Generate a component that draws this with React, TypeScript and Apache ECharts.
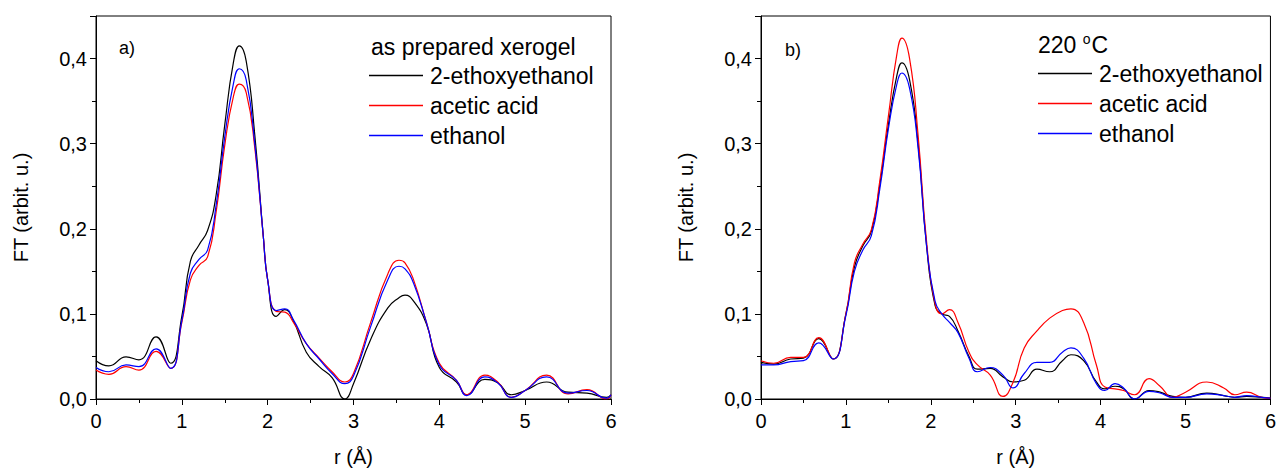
import React, { useEffect, useRef } from "react";
import * as echarts from "echarts";

// ---- Panel a) as prepared xerogel ----
const rA = [0, 0.15, 0.35, 0.5, 0.7, 0.87, 1.0, 1.1, 1.2, 1.3, 1.4, 1.5, 1.6, 1.67, 1.75, 1.85, 1.95, 2.0, 2.1, 2.2, 2.3, 2.45, 2.6, 2.75, 2.9, 3.0, 3.2, 3.4, 3.53, 3.6, 3.7, 3.85, 4.0, 4.2, 4.32, 4.53, 4.68, 4.84, 5.0, 5.25, 5.5, 5.72, 5.95, 6.0];
const aEthoxy = [0.045, 0.039, 0.0495, 0.046, 0.073, 0.042, 0.097, 0.162, 0.181, 0.198, 0.24, 0.322, 0.395, 0.415, 0.397, 0.31, 0.19, 0.14, 0.097, 0.105, 0.092, 0.055, 0.038, 0.025, 0.0, 0.018, 0.07, 0.107, 0.119, 0.122, 0.115, 0.088, 0.037, 0.02, 0.005, 0.023, 0.019, 0.005, 0.01, 0.02, 0.008, 0.007, 0.002, 0.005];
const aAcetic = [0.034, 0.029, 0.038, 0.034, 0.056, 0.036, 0.09, 0.14, 0.157, 0.167, 0.22, 0.298, 0.355, 0.37, 0.36, 0.295, 0.19, 0.14, 0.103, 0.102, 0.09, 0.065, 0.048, 0.032, 0.02, 0.03, 0.09, 0.147, 0.163, 0.16, 0.14, 0.09, 0.042, 0.022, 0.005, 0.028, 0.02, 0.002, 0.01, 0.028, 0.006, 0.011, 0.0, 0.005];
const aEthanol = [0.037, 0.032, 0.04, 0.038, 0.059, 0.036, 0.092, 0.148, 0.164, 0.175, 0.228, 0.308, 0.37, 0.388, 0.375, 0.3, 0.19, 0.14, 0.104, 0.106, 0.093, 0.065, 0.047, 0.03, 0.018, 0.027, 0.085, 0.14, 0.156, 0.153, 0.136, 0.09, 0.04, 0.022, 0.004, 0.026, 0.019, 0.002, 0.01, 0.026, 0.007, 0.01, 0.001, 0.005];

// ---- Panel b) 220 °C ----
const rB = [0, 0.15, 0.35, 0.5, 0.68, 0.85, 1.0, 1.1, 1.2, 1.3, 1.4, 1.5, 1.6, 1.66, 1.75, 1.85, 1.95, 2.05, 2.13, 2.22, 2.32, 2.45, 2.55, 2.7, 2.85, 2.97, 3.1, 3.25, 3.4, 3.55, 3.65, 3.8, 3.95, 4.05, 4.17, 4.27, 4.4, 4.57, 4.7, 4.85, 5.0, 5.25, 5.45, 5.58, 5.72, 5.9, 6.0];
const bEthoxy = [0.043, 0.041, 0.047, 0.048, 0.071, 0.047, 0.1, 0.155, 0.18, 0.197, 0.252, 0.322, 0.38, 0.395, 0.375, 0.3, 0.18, 0.11, 0.1, 0.097, 0.08, 0.05, 0.035, 0.036, 0.026, 0.02, 0.022, 0.035, 0.032, 0.045, 0.052, 0.045, 0.02, 0.012, 0.015, 0.012, 0.0, 0.01, 0.008, 0.003, 0.002, 0.007, 0.004, 0.002, 0.003, 0.002, 0.001];
const bAcetic = [0.045, 0.042, 0.049, 0.049, 0.072, 0.047, 0.1, 0.16, 0.182, 0.199, 0.257, 0.332, 0.405, 0.424, 0.4, 0.31, 0.185, 0.112, 0.1, 0.105, 0.09, 0.055, 0.04, 0.028, 0.003, 0.02, 0.06, 0.08, 0.095, 0.104, 0.106, 0.09, 0.04, 0.014, 0.012, 0.01, 0.005, 0.024, 0.015, 0.002, 0.008, 0.02, 0.013, 0.005, 0.008, 0.002, 0.001];
const bEthanol = [0.04, 0.04, 0.044, 0.045, 0.066, 0.047, 0.098, 0.15, 0.175, 0.192, 0.247, 0.317, 0.37, 0.383, 0.365, 0.295, 0.18, 0.115, 0.1, 0.09, 0.078, 0.048, 0.032, 0.037, 0.028, 0.013, 0.03, 0.043, 0.043, 0.055, 0.06, 0.048, 0.018, 0.01, 0.018, 0.013, 0.0, 0.009, 0.007, 0.002, 0.002, 0.006, 0.004, 0.002, 0.004, 0.002, 0.001];

const seriesNames = ["2-ethoxyethanol", "acetic acid", "ethanol"];
const seriesColors = ["#000000", "#ff0000", "#0000ff"];

const FONT = "'Liberation Sans', Arial, sans-serif";

function pairs(xs: number[], ys: number[]) {
  return xs.map((x, i) => [x, ys[i]]);
}

function yLabel(v: number) {
  const k = Math.round(v * 10);
  if (Math.abs(v * 10 - k) > 1e-6) return "";
  return (k / 10).toFixed(1).replace(".", ",");
}

export default function App() {
  const ref = useRef<HTMLDivElement>(null);
  useEffect(() => {
    if (!ref.current) return;
    const chart = echarts.init(ref.current, null, { renderer: "svg" });
    const grids = [
      { left: 96, top: 16, width: 515, height: 389 },
      { left: 761, top: 16, width: 516, height: 390 },
    ];
    const xAxes = grids.map((_, i) => ({
      type: "value",
      gridIndex: i,
      min: 0,
      max: 6,
      interval: 1,
      name: "r (Å)",
      nameLocation: "middle",
      nameGap: 48,
      nameTextStyle: { fontSize: 20, color: "#000", fontFamily: FONT },
      axisLine: { lineStyle: { color: "#000", width: 1 } },
      axisTick: { length: 6, lineStyle: { color: "#000", width: 1 } },
      minorTick: { show: true, splitNumber: 2, length: 4, lineStyle: { color: "#000", width: 1 } },
      splitLine: { show: false },
      axisLabel: { fontSize: 20, color: "#000", fontFamily: FONT, margin: 12 },
    }));
    const yAxes: any[] = [];
    grids.forEach((_, i) => {
      yAxes.push({
        type: "value",
        gridIndex: i,
        position: "left",
        min: 0,
        max: 0.45,
        interval: 0.1,
        name: "FT (arbit. u.)",
        nameLocation: "middle",
        nameGap: 65,
        nameTextStyle: { fontSize: 20, color: "#000", fontFamily: FONT },
        axisLine: { show: true, lineStyle: { color: "#000", width: 1 } },
        axisTick: { show: true, length: 6, lineStyle: { color: "#000", width: 1 } },
        splitLine: { show: false },
        axisLabel: { fontSize: 20, color: "#000", fontFamily: FONT, margin: 9, formatter: yLabel },
      });
    });
    grids.forEach((_, i) => {
      yAxes.push({
        type: "value",
        gridIndex: i,
        position: "left",
        offset: 0,
        min: 0,
        max: 0.45,
        interval: 0.05,
        axisLine: { show: false },
        axisTick: { show: true, length: 4, lineStyle: { color: "#000", width: 1 } },
        splitLine: { show: false },
        axisLabel: { show: false },
      });
    });

    const panelData = [
      [pairs(rA, aEthoxy), pairs(rA, aAcetic), pairs(rA, aEthanol)],
      [pairs(rB, bEthoxy), pairs(rB, bAcetic), pairs(rB, bEthanol)],
    ];
    const series: any[] = [];
    panelData.forEach((sets, p) => {
      sets.forEach((d, k) => {
        series.push({
          type: "line",
          name: seriesNames[k],
          xAxisIndex: p,
          yAxisIndex: p,
          data: d,
          smooth: 0.5,
          symbol: "none",
          showSymbol: false,
          color: seriesColors[k],
          lineStyle: { color: seriesColors[k], width: 1.2 },
        });
      });
    });

    const legendCommon = {
      orient: "vertical",
      data: seriesNames,
      icon: "rect",
      itemWidth: 54,
      itemHeight: 1.5,
      itemGap: 7,
      padding: 0,
      selectedMode: false,
      textStyle: { fontSize: 23, lineHeight: 23, color: "#000", fontFamily: FONT, padding: [0, 0, 0, 2] },
    };

    chart.setOption({
      animation: false,
      backgroundColor: "#ffffff",
      grid: grids.map((g) => ({ ...g, show: true, borderColor: "#000", borderWidth: 1, containLabel: false })),
      xAxis: xAxes,
      yAxis: yAxes,
      series,
      legend: [
        { ...legendCommon, left: 369, top: 64 },
        { ...legendCommon, left: 1038, top: 62 },
      ],
      title: [
        { text: "a)", left: 119, top: 39, padding: 0, textStyle: { fontSize: 18, fontWeight: "normal", color: "#000", fontFamily: FONT } },
        { text: "b)", left: 785, top: 41, padding: 0, textStyle: { fontSize: 18, fontWeight: "normal", color: "#000", fontFamily: FONT } },
        { text: "as prepared xerogel", left: 371, top: 35, padding: 0, textStyle: { fontSize: 23, fontWeight: "normal", color: "#000", fontFamily: FONT } },
        {
          text: "{n|220 }{s|o}{n|C}",
          left: 1038,
          top: 32,
          padding: 0,
          textStyle: {
            fontWeight: "normal",
            rich: {
              n: { fontSize: 23, fontWeight: "normal", color: "#000", fontFamily: FONT, lineHeight: 26 },
              s: { fontSize: 14, fontWeight: "normal", color: "#000", fontFamily: FONT, lineHeight: 26, padding: [0, 1, 12, 0] },
            },
          },
        },
      ],
    });
    return () => chart.dispose();
  }, []);
  return (
    <div
      ref={ref}
      style={{ position: "fixed", left: 0, top: 0, width: 1279, height: 472, background: "#fff" }}
    />
  );
}
